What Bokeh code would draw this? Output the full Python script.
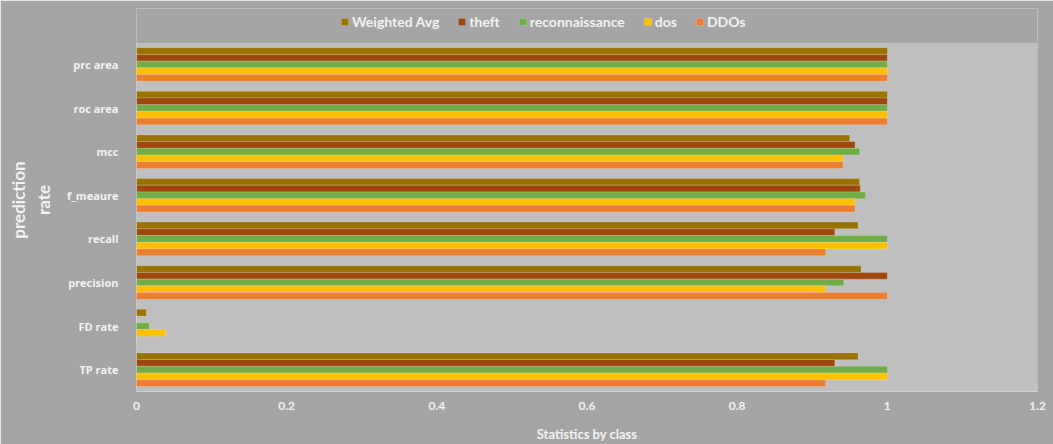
from bokeh.plotting import figure
from bokeh.models import ColumnDataSource, Legend, LegendItem, FixedTicker, Range1d
from bokeh.transform import dodge
from bokeh.embed import file_html
from bokeh.resources import INLINE

# metrics, listed bottom to top
metrics = ["TP rate", "FD rate", "precision", "recall", "f_meaure", "mcc", "roc area", "prc area"]

weighted_avg = [0.961, 0.013, 0.965, 0.961, 0.963, 0.950, 1.0, 1.0]
theft = [0.930, 0.0, 1.0, 0.930, 0.964, 0.957, 1.0, 1.0]
reconnaissance = [1.0, 0.017, 0.942, 1.0, 0.971, 0.963, 1.0, 1.0]
dos = [1.0, 0.039, 0.918, 1.0, 0.957, 0.941, 1.0, 1.0]
ddos = [0.918, 0.0, 1.0, 0.918, 0.957, 0.941, 1.0, 1.0]

series_names = ["Weighted Avg", "theft", "reconnaissance", "dos", "DDOs"]
series_keys = ["wavg", "theft", "recon", "dos", "ddos"]
colors = ["#997300", "#9E480E", "#70AD47", "#FFC000", "#ED7D31"]
x_ticks = [0, 0.2, 0.4, 0.6, 0.8, 1.0, 1.2]

# each metric occupies one unit band on a numeric y scale
positions = [i + 0.5 for i in range(len(metrics))]
source = ColumnDataSource(dict(pos=positions, wavg=weighted_avg, theft=theft,
                               recon=reconnaissance, dos=dos, ddos=ddos))

OUTER = "#A5A5A5"
INNER = "#BFBFBF"
TEXT = "#F2F2F2"
FONT = "Lato"

n_bands = len(metrics)
headroom = 0.784  # space above the bands that holds the legend

p = figure(width=1053, height=444, x_range=Range1d(0, 1.2), y_range=Range1d(0, n_bands + headroom),
           output_backend="svg", toolbar_location=None,
           min_border_left=136, min_border_right=16, min_border_top=8, min_border_bottom=52)
p.background_fill_color = OUTER
p.border_fill_color = OUTER
p.outline_line_color = None

# plot area panel
p.quad(left=[0], right=[1.2], bottom=[0], top=[n_bands], fill_color=INNER, line_color=None)
p.segment(x0=[0], y0=[0], x1=[0], y1=[n_bands], line_color="#D0D0D0", line_width=1)

bar_h = 0.77 / 5
offsets = [2 * bar_h, bar_h, 0, -bar_h, -2 * bar_h]
renderers = []
for key, col, off in zip(series_keys, colors, offsets):
    r = p.hbar(y=dodge("pos", off), right=key, left=0, height=bar_h,
               source=source, fill_color=col, line_color="#FFFFFF", line_alpha=0.18, line_width=1)
    renderers.append(r)

p.xgrid.grid_line_color = None
p.ygrid.grid_line_color = None

p.xaxis.ticker = FixedTicker(ticks=x_ticks)
p.xaxis.major_label_overrides = {0: "0", 1: "1"}
p.yaxis.ticker = FixedTicker(ticks=positions)
p.yaxis.major_label_overrides = {pos: name for pos, name in zip(positions, metrics)}
for ax in (p.xaxis[0], p.yaxis[0]):
    ax.major_tick_line_color = None
    ax.minor_tick_line_color = None
    ax.major_label_text_color = TEXT
    ax.major_label_text_font = FONT
    ax.major_label_text_font_style = "bold"
    ax.major_label_text_font_size = "12px"
    ax.axis_label_text_color = TEXT
    ax.axis_label_text_font = FONT
    ax.axis_label_text_font_style = "bold"
p.xaxis.axis_line_color = "#D0D0D0"
p.yaxis.axis_line_color = None
p.xaxis.major_label_standoff = 4
p.yaxis.major_label_standoff = 12
p.yaxis.major_label_text_font = "Open Sans"
p.yaxis.major_label_text_font_size = "11px"

p.xaxis.axis_label = "Statistics by class"
p.xaxis.axis_label_text_font_size = "13px"
p.xaxis.axis_label_standoff = 13
p.yaxis.axis_label = "prediction\nrate"
p.yaxis.axis_label_text_font_size = "17px"
p.yaxis.axis_label_standoff = 10

legend = Legend(items=[LegendItem(label=n, renderers=[r]) for n, r in zip(series_names, renderers)],
                orientation="horizontal", location=(200, 357),
                background_fill_alpha=0, border_line_alpha=0,
                label_text_color=TEXT, label_text_font=FONT, label_text_font_style="bold",
                label_text_font_size="14px", glyph_width=9, glyph_height=9,
                spacing=18, label_standoff=3, padding=4, margin=0)
p.add_layout(legend, "center")

open("out.html", "w").write(file_html(p, INLINE))
